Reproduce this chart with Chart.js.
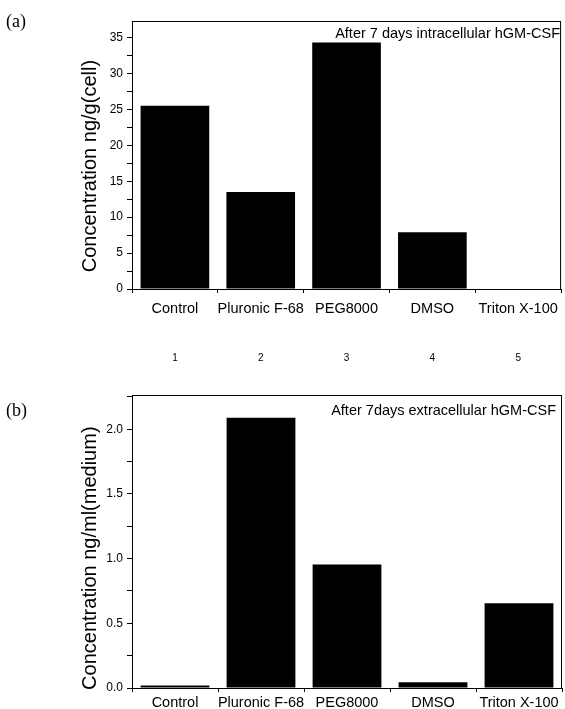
<!DOCTYPE html>
<html>
<head>
<meta charset="utf-8">
<script src="https://cdn.jsdelivr.net/npm/chart.js@4"></script>
<style>
  body { margin: 0; background: #fff; }
  #page { position: relative; width: 565px; height: 709px; overflow: hidden; background: #fff; }
  canvas { position: absolute; left: 0; }
  .panel { position: absolute; left: 6px; font: 18px "Liberation Serif", "Times New Roman", serif; line-height: 18px; color: #000; }
  .note { position: absolute; font: 14.5px "Liberation Sans", Arial, sans-serif; line-height: 14.5px; color: #000; white-space: nowrap; }
</style>
</head>
<body>
<div id="page">
  <canvas id="chartA" width="565" height="375" style="top:0"></canvas>
  <canvas id="chartB" width="565" height="349" style="top:360px"></canvas>
  <div class="panel" style="top:12px">(a)</div>
  <div class="panel" style="top:401px">(b)</div>
  <div class="note" style="top:26px; right:5px">After 7 days intracellular hGM-CSF</div>
  <div class="note" style="top:403px; right:9px">After 7days extracellular hGM-CSF</div>
</div>
<script>
// donnees
const categories = ['Control', 'Pluronic F-68', 'PEG8000', 'DMSO', 'Triton X-100'];
const sampleNumbers = ['1', '2', '3', '4', '5'];
const intracellular = [25.5, 13.5, 34.3, 7.9, 0];      // ng/g(cell)
const extracellular = [0.02, 2.09, 0.955, 0.045, 0.655]; // ng/ml(medium)

const font = 'Liberation Sans';

// cadre autour de la zone du graphique
const framePlugin = {
  id: 'frame',
  afterDraw(chart) {
    const { ctx, chartArea: a } = chart;
    ctx.save();
    ctx.strokeStyle = '#000';
    ctx.lineWidth = 1;
    ctx.strokeRect(a.left + 0.5, a.top + 0.5, a.right - a.left - 1, a.bottom - a.top);
    ctx.restore();
  }
};

function makeChart(id, values, opts) {
  const scales = {
    x: {
      type: 'category',
      weight: 0,
      grid: { display: true, drawOnChartArea: false, color: '#000', tickLength: 4 },
      border: { color: '#000', width: 1 },
      ticks: { color: '#000', font: { family: font, size: 14.5 }, padding: opts.xPad, maxRotation: 0, autoSkip: false },
      afterFit: s => { s.height = opts.xHeight; }
    },
    y: {
      min: 0,
      max: opts.yMax,
      grid: { display: true, drawOnChartArea: false, color: '#000', tickLength: 5 },
      border: { color: '#000', width: 1 },
      ticks: {
        stepSize: opts.step / 2,
        includeBounds: false,
        color: '#000',
        padding: 4,
        font: { family: font, size: 12 },
        // une graduation mineure entre chaque majeure, sans etiquette
        callback: v => (Math.abs(v / opts.step - Math.round(v / opts.step)) < 1e-6 ? v.toFixed(opts.decimals) : '')
      },
      title: {
        display: true,
        // espaces en fin de texte pour descendre un peu le titre
        text: opts.yTitle,
        color: '#000',
        font: { family: font, size: 20 },
        padding: { top: 78, bottom: 0 }
      },
      afterFit: s => { s.width = 132; }
    }
  };
  if (opts.numbers) {
    // numeros des echantillons sous les noms
    scales.x2 = {
      type: 'category',
      position: 'bottom',
      weight: 1,
      labels: sampleNumbers,
      offset: true,
      grid: { display: false, drawTicks: false },
      border: { display: false },
      ticks: { color: '#000', font: { family: font, size: 10 }, padding: 13 },
      afterFit: s => { s.height = 36; }
    };
  }
  return new Chart(document.getElementById(id), {
    type: 'bar',
    data: {
      labels: categories,
      datasets: [{
        data: values,
        backgroundColor: '#000',
        borderWidth: 0,
        barPercentage: 0.8,
        categoryPercentage: 1
      }]
    },
    options: {
      responsive: false,
      animation: false,
      devicePixelRatio: 1,
      layout: { padding: { left: 0, right: opts.padRight, top: opts.padTop, bottom: 0 } },
      plugins: { legend: { display: false }, tooltip: { enabled: false } },
      scales: scales
    },
    plugins: [framePlugin]
  });
}

makeChart('chartA', intracellular, {
  yMax: 37.3, step: 5, decimals: 0,
  yTitle: 'Concentration ng/g(cell)    ',
  padTop: 21, padRight: 2,
  xHeight: 50, xPad: 7, numbers: true
});

makeChart('chartB', extracellular, {
  yMax: 2.265, step: 0.5, decimals: 1,
  yTitle: 'Concentration ng/ml(medium)      ',
  padTop: 35, padRight: 3,
  xHeight: 21, xPad: 2, numbers: false
});
</script>
</body>
</html>
